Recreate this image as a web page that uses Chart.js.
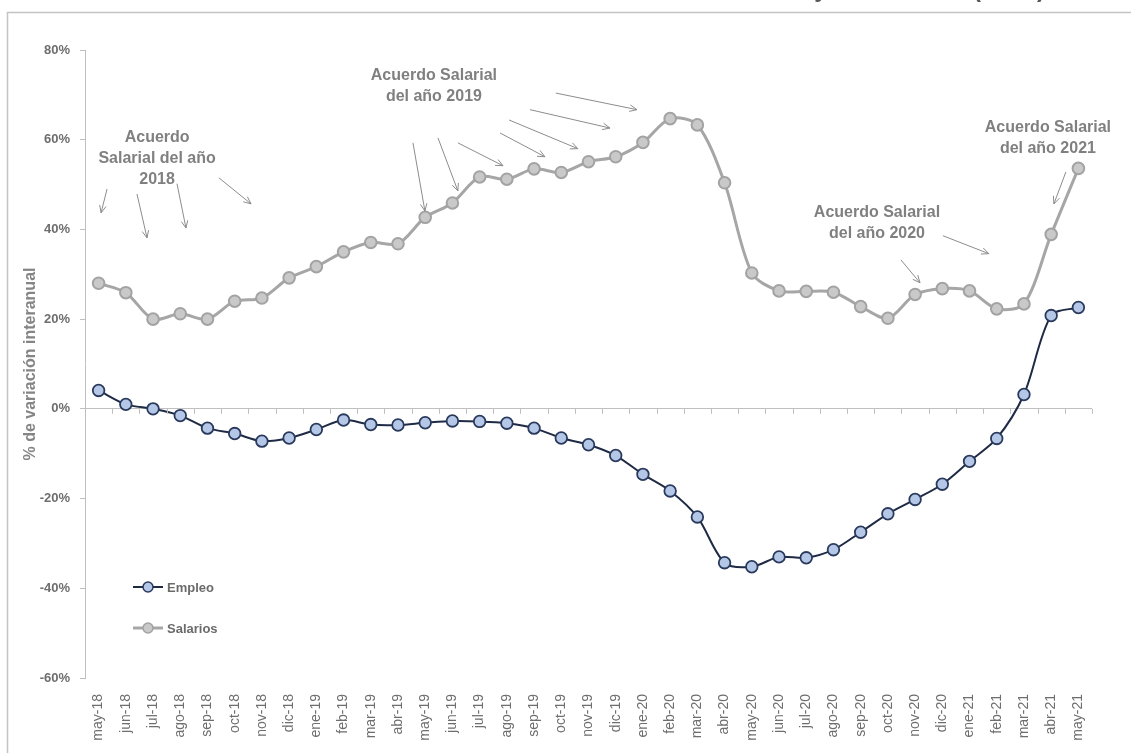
<!DOCTYPE html>
<html>
<head>
<meta charset="utf-8">
<script src="https://cdn.jsdelivr.net/npm/chart.js@4"></script>
<style>
  html, body { margin: 0; padding: 0; background: #fff; }
  #wrap { position: relative; width: 1131px; height: 753px; overflow: hidden; }
  #titulo { position: absolute; right: 86px; top: -25px; font: bold 24px "Liberation Sans", Arial, sans-serif; color: #595959; white-space: nowrap; }
</style>
</head>
<body>
<div id="wrap">
  <div id="titulo">Variación interanual de los asalariados y los salarios (en %)</div>
  <canvas id="myChart" width="1131" height="753"></canvas>
</div>
<script>
var meses = ['may-18', 'jun-18', 'jul-18', 'ago-18', 'sep-18', 'oct-18', 'nov-18', 'dic-18',
  'ene-19', 'feb-19', 'mar-19', 'abr-19', 'may-19', 'jun-19', 'jul-19', 'ago-19', 'sep-19', 'oct-19', 'nov-19', 'dic-19',
  'ene-20', 'feb-20', 'mar-20', 'abr-20', 'may-20', 'jun-20', 'jul-20', 'ago-20', 'sep-20', 'oct-20', 'nov-20', 'dic-20',
  'ene-21', 'feb-21', 'mar-21', 'abr-21', 'may-21'];

var empleo = [4.1, 1.0, 0.0, -1.5, -4.3, -5.5, -7.2, -6.5, -4.6, -2.5, -3.5, -3.6,
  -3.1, -2.7, -2.8, -3.2, -4.3, -6.5, -8.0, -10.4, -14.6, -18.3, -24.1, -34.3,
  -35.2, -33.0, -33.2, -31.4, -27.5, -23.4, -20.2, -16.8, -11.7, -6.6, 3.2, 20.8, 22.6];

var salarios = [28.0, 25.9, 20.0, 21.2, 20.0, 24.0, 24.7, 29.2, 31.7, 35.0, 37.1, 36.8,
  42.7, 45.9, 51.7, 51.2, 53.5, 52.7, 55.1, 56.2, 59.4, 64.7, 63.3, 50.4,
  30.3, 26.3, 26.2, 26.0, 22.8, 20.2, 25.5, 26.8, 26.3, 22.3, 23.4, 38.9, 53.6];

var ticksY = [80, 60, 40, 20, 0, -20, -40, -60];

// anotaciones en coordenadas de datos (indice de mes, valor)
var textos = [
  { x: 2.15, y: 60.4, lineas: ['Acuerdo', 'Salarial del año', '2018'] },
  { x: 12.32, y: 74.2, lineas: ['Acuerdo Salarial', 'del año 2019'] },
  { x: 28.6, y: 43.7, lineas: ['Acuerdo Salarial', 'del año 2020'] },
  { x: 34.88, y: 62.6, lineas: ['Acuerdo Salarial', 'del año 2021'] }
];
var flechas = [
  [0.31, 49.0, 0.09, 43.7], [1.41, 47.9, 1.78, 38.1], [2.88, 50.2, 3.21, 40.3], [4.42, 51.5, 5.6, 45.7],
  [11.55, 59.3, 11.99, 44.1], [12.47, 60.4, 13.2, 48.6], [13.2, 59.3, 14.86, 54.2], [14.75, 61.5, 16.4, 56.2],
  [15.08, 64.4, 17.61, 58.0], [15.85, 66.7, 18.79, 62.6], [16.8, 70.4, 19.78, 66.7],
  [29.48, 33.2, 30.18, 28.1], [31.02, 38.6, 32.71, 34.6],
  [35.54, 52.8, 35.1, 45.7]
];

var fuente = '"Liberation Sans", Arial, sans-serif';

var extras = {
  id: 'extras',
  beforeDraw: function (chart) {
    var c = chart.ctx;
    c.save();
    c.strokeStyle = '#c4c4c4';
    c.lineWidth = 1.5;
    c.strokeRect(7.5, 12.5, 1300, 900);
    c.restore();
  },
  afterDatasetsDraw: function (chart) {
    var c = chart.ctx;
    var xs = chart.scales.x, ys = chart.scales.y;
    var y0 = ys.getPixelForValue(0);
    c.save();
    // marcas del eje en 0%
    c.strokeStyle = '#bfbfbf';
    c.lineWidth = 1;
    for (var i = 0; i <= meses.length; i++) {
      var px = Math.round(xs.getPixelForValue(i - 0.5)) + 0.5;
      c.beginPath();
      c.moveTo(px, y0);
      c.lineTo(px, y0 + 5);
      c.stroke();
    }
    // textos
    c.fillStyle = '#808080';
    c.font = 'bold 16px ' + fuente;
    c.textAlign = 'center';
    c.textBaseline = 'middle';
    textos.forEach(function (t) {
      var tx = xs.getPixelForValue(t.x), ty = ys.getPixelForValue(t.y);
      t.lineas.forEach(function (l, k) { c.fillText(l, tx, ty + k * 21); });
    });
    // flechas
    c.strokeStyle = '#8c8c8c';
    c.lineWidth = 1;
    flechas.forEach(function (f) {
      var x1 = xs.getPixelForValue(f[0]), y1 = ys.getPixelForValue(f[1]);
      var x2 = xs.getPixelForValue(f[2]), y2 = ys.getPixelForValue(f[3]);
      var a = Math.atan2(y2 - y1, x2 - x1), h = 8, w = 0.42;
      c.beginPath();
      c.moveTo(x1, y1);
      c.lineTo(x2, y2);
      c.moveTo(x2 - h * Math.cos(a - w), y2 - h * Math.sin(a - w));
      c.lineTo(x2, y2);
      c.lineTo(x2 - h * Math.cos(a + w), y2 - h * Math.sin(a + w));
      c.stroke();
    });
    // leyenda
    var items = chart.data.datasets;
    c.font = 'bold 13px ' + fuente;
    c.textAlign = 'left';
    items.forEach(function (d, k) {
      var ly = 587 + k * 41;
      c.strokeStyle = d.borderColor;
      c.lineWidth = d.borderWidth;
      c.beginPath();
      c.moveTo(133, ly);
      c.lineTo(163, ly);
      c.stroke();
      c.beginPath();
      c.arc(148, ly, 5, 0, Math.PI * 2);
      c.fillStyle = d.pointBackgroundColor;
      c.fill();
      c.lineWidth = 1.5;
      c.strokeStyle = d.pointBorderColor;
      c.stroke();
      c.fillStyle = '#6b6b6b';
      c.fillText(d.label, 167, ly + 1);
    });
    c.restore();
  }
};

var ctx = document.getElementById('myChart').getContext('2d');
var myChart = new Chart(ctx, {
  type: 'line',
  data: {
    labels: meses,
    datasets: [{
      label: 'Empleo',
      data: empleo,
      borderColor: '#1f2b45',
      borderWidth: 2,
      pointBackgroundColor: '#b4c7e7',
      pointBorderColor: '#2a3a5c',
      pointBorderWidth: 1.8,
      pointRadius: 5.8,
      tension: 0.3
    }, {
      label: 'Salarios',
      data: salarios,
      borderColor: '#a6a6a6',
      borderWidth: 3,
      pointBackgroundColor: '#c9c9c9',
      pointBorderColor: '#a3a3a3',
      pointBorderWidth: 2,
      pointRadius: 5.8,
      tension: 0.3
    }]
  },
  options: {
    responsive: false,
    animation: false,
    layout: { padding: { left: 8, top: 50, right: 39, bottom: 0 } },
    plugins: {
      legend: { display: false },
      tooltip: { enabled: false }
    },
    scales: {
      x: {
        offset: true,
        grid: { display: false },
        border: { display: false },
        ticks: {
          autoSkip: false,
          maxRotation: 90,
          minRotation: 90,
          padding: 8,
          color: '#6e6e6e',
          font: { family: fuente, size: 14 }
        },
        afterFit: function (s) { s.height = 75; }
      },
      y: {
        min: -60,
        max: 80,
        afterBuildTicks: function (s) { s.ticks = ticksY.map(function (v) { return { value: v }; }); },
        grid: {
          color: function (c) { return c.tick && c.tick.value === 0 ? '#c0c0c0' : 'rgba(0,0,0,0)'; },
          tickColor: '#bfbfbf',
          tickLength: 5
        },
        border: { color: '#bfbfbf' },
        ticks: {
          padding: 10,
          color: '#6e6e6e',
          font: { family: fuente, size: 13, weight: 'bold' },
          callback: function (v) { return v + '%'; }
        },
        title: {
          display: true,
          text: '% de variación interanual',
          color: '#858585',
          padding: { top: 13, bottom: 0 },
          font: { family: fuente, size: 16, weight: 'bold' }
        },
        afterFit: function (s) { s.width = 77; }
      }
    }
  },
  plugins: [extras]
});
</script>
</body>
</html>
